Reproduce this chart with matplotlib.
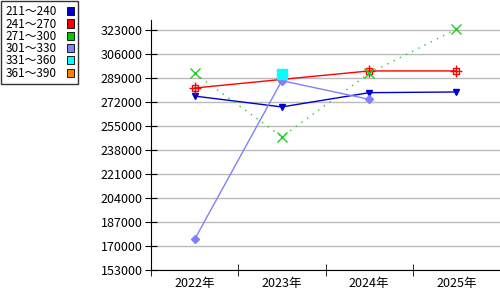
import matplotlib
matplotlib.use("Agg")
import matplotlib.pyplot as plt
import matplotlib.patches as mpatches
import numpy as np

plt.rcParams["font.family"] = ["Noto Sans CJK JP", "DejaVu Sans"]

years = ["2022年", "2023年", "2024年", "2025年"]
legend_labels = ["211～240", "241～270", "271～300", "301～330", "331～360", "361～390"]
legend_colors = ["#0000cc", "#ff0000", "#00cc00", "#8080ff", "#00ffff", "#ff8000"]

s_211_240 = [276200, 268500, 278600, 279100]
s_241_270 = [281900, 288000, 294000, 294000]
s_271_300 = [292300, 247400, 292300, 323700]
s_301_330 = [174700, 287100, 273900, None]
s_331_360 = [None, 291600, None, None]

yticks = list(range(153000, 323001, 17000))

fig = plt.figure(figsize=(5, 3), dpi=100)
ax = fig.add_axes([151 / 500, 30 / 300, 349 / 500, 250 / 300])

x = np.arange(len(years)) + 0.5


def clean(vals):
    return np.array([np.nan if v is None else v for v in vals], dtype=float)


ax.plot(x, clean(s_211_240), color="#0000cc", lw=1, marker="v", ms=5, zorder=3)
ax.plot(x, clean(s_241_270), color="#ff0000", lw=1, marker="s", ms=5,
        mfc="none", mec="#ff0000", zorder=3)
ax.plot(x, clean(s_241_270), color="none", marker="+", ms=8, mec="#ff0000", zorder=3)
ax.plot(x, clean(s_271_300), color="#22cc22", lw=1, ls=(0, (1, 4)), marker="x", ms=7,
        zorder=3)
ax.plot(x, clean(s_301_330), color="#8080ff", lw=1, marker="D", ms=4, zorder=3)
ax.plot(x, clean(s_331_360), color="#00ffff", lw=1, marker="s", ms=7, zorder=4)

ax.set_xlim(0, len(years))
ax.set_ylim(153000, 330083)
ax.set_yticks(yticks)
ax.set_yticklabels([str(v) for v in yticks], fontsize=9)
ax.yaxis.grid(True, color="#bbbbbb", lw=1)
ax.set_axisbelow(True)

ax.set_xticks(x)
ax.set_xticklabels(years, fontsize=9)
ax.set_xticks(np.arange(len(years) + 1), minor=True)
ax.tick_params(axis="x", which="major", length=0, pad=5)
ax.tick_params(axis="x", which="minor", direction="inout", length=8)
ax.tick_params(axis="y", direction="inout", length=8, pad=2)

for side in ["top", "right"]:
    ax.spines[side].set_visible(False)

handles = [mpatches.Patch(facecolor=c, edgecolor="black", lw=0.6) for c in legend_colors]
leg = fig.legend(handles, legend_labels, loc="upper left", bbox_to_anchor=(0, 1),
                 markerfirst=False, fontsize=8.5, frameon=True, fancybox=False,
                 borderpad=0.35, labelspacing=-0.06, handlelength=0.55,
                 handleheight=0.7, handletextpad=0.9, borderaxespad=0.1)
leg.get_frame().set_edgecolor("black")
leg.get_frame().set_linewidth(1)

fig.savefig("out.png", dpi=100)
